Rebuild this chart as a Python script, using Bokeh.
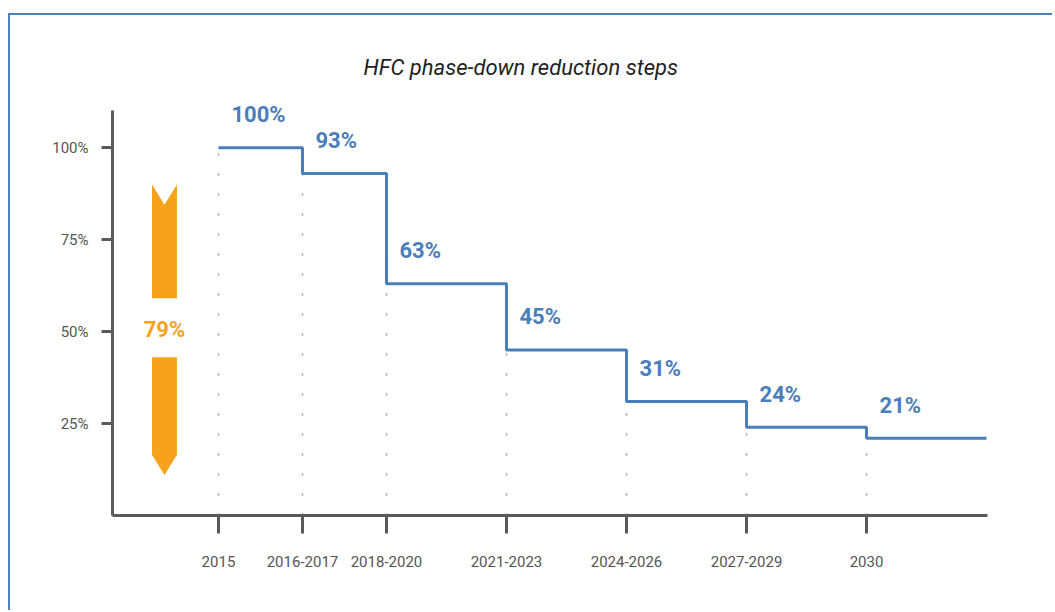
from bokeh.plotting import figure
from bokeh.models import Range1d, FixedTicker
from bokeh.core.properties import value
from bokeh.embed import file_html
from bokeh.resources import INLINE

# ---- data ----
periods = ["2015", "2016-2017", "2018-2020", "2021-2023", "2024-2026", "2027-2029", "2030"]
period_x = [0.0, 0.7, 1.4, 2.4, 3.4, 4.4, 5.4]
levels = [100, 93, 63, 45, 31, 24, 21]
x_end = 6.4
y_ticks = [25, 50, 75, 100]
y_tick_labels = ["25%", "50%", "75%", "100%"]
title_text = "HFC phase-down reduction steps"

# ---- style ----
FONT = "Roboto"
BLUE = "#4a7ebb"
ORANGE = "#f7a21b"
GRAY = "#5a5a5a"
LABEL_GRAY = "#555555"
BORDER = "#4f81bd"

p = figure(width=1052, height=610, output_backend="svg", toolbar_location=None,
           x_range=Range1d(-0.883, 6.408), y_range=Range1d(0, 115),
           min_border_left=112, min_border_right=65, min_border_top=92, min_border_bottom=95,
           title=title_text)
p.outline_line_color = None
p.grid.visible = False
p.background_fill_color = None
p.border_fill_color = None
p.styles = {"box-shadow": f"inset 8px 0 0 0 white, inset 0 13px 0 0 white, inset 10px 15px 0 0 {BORDER}"}

p.title.text_font = FONT
p.title.text_font_style = "italic"
p.title.text_font_size = "22px"
p.title.text_color = "#222222"
p.title.align = "left"
p.title.offset = 251
p.title.standoff = 25

# axes
for ax in (p.xaxis, p.yaxis):
    ax.axis_line_color = GRAY
    ax.axis_line_width = 3
    ax.major_tick_line_color = GRAY
    ax.major_tick_line_width = 3
    ax.major_tick_in = 0
    ax.minor_tick_line_color = None
    ax.major_label_text_font = FONT
    ax.major_label_text_color = LABEL_GRAY

p.xaxis.ticker = FixedTicker(ticks=period_x)
p.xaxis.major_label_overrides = {x: lab for x, lab in zip(period_x, periods)}
p.xaxis.major_tick_out = 18
p.xaxis.major_label_standoff = 22
p.xaxis.major_label_text_font_size = "15px"

p.yaxis.ticker = FixedTicker(ticks=y_ticks)
p.yaxis.major_label_overrides = {y: lab for y, lab in zip(y_ticks, y_tick_labels)}
p.yaxis.major_tick_out = 11
p.yaxis.major_label_standoff = 13
p.yaxis.major_label_text_font_size = "15px"
p.yaxis.bounds = (0, 110)

# dotted guide lines
p.segment(x0=period_x, y0=[0] * len(levels), x1=period_x, y1=levels,
          line_color="#9a9a9a", line_width=1.5, line_dash="2 18")

# step line
p.step(x=period_x + [x_end], y=levels + [levels[-1]], mode="after",
       line_color=BLUE, line_width=3)

# value labels
p.text(x=period_x, y=levels, text=[f"{v}%" for v in levels],
       x_offset=13, y_offset=-33, text_align="left", text_baseline="alphabetic",
       text_font=value(FONT), text_font_style="bold", text_font_size="22px",
       text_color=BLUE)

# reduction arrow
reduction = levels[0] - levels[-1]
acx, ahw, atop = -0.45, 0.104, 90.0
tip = atop - reduction
notch = atop - 0.07 * reduction
ub = atop - 0.392 * reduction
lt = atop - 0.595 * reduction
lb = tip + 0.07 * reduction
p.patches(xs=[[acx - ahw, acx, acx + ahw, acx + ahw, acx - ahw],
              [acx - ahw, acx + ahw, acx + ahw, acx, acx - ahw]],
          ys=[[atop, notch, atop, ub, ub],
              [lt, lt, lb, tip, lb]],
          fill_color=ORANGE, line_color=None)
p.text(x=[acx], y=[atop - 0.5 * reduction], text=[f"{reduction}%"],
       text_align="center", text_baseline="middle",
       text_font=value(FONT), text_font_style="bold", text_font_size="22px",
       text_color=ORANGE)

open("out.html", "w").write(file_html(p, INLINE))
